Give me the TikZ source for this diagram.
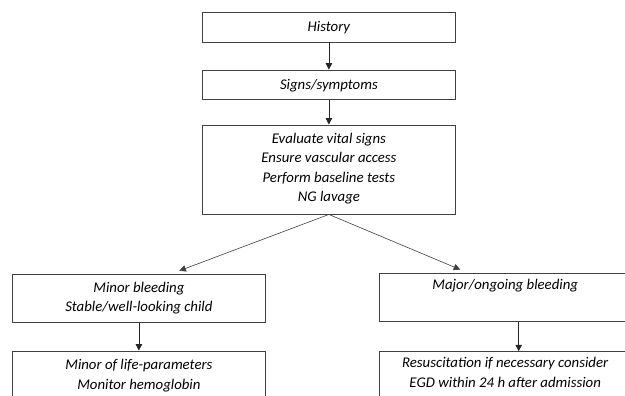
\documentclass[tikz,border=0pt]{standalone}
\usepackage{fontspec}
\setmainfont{Carlito}
\usetikzlibrary{arrows.meta,calc}
\begin{document}
\begin{tikzpicture}[x=1pt,y=-1pt,
  box/.style={draw=black!75,line width=0.9pt,minimum width=252.3pt,inner sep=0pt,align=center,
    font=\fontsize{14.8}{19.4}\selectfont\itshape,
    execute at begin node={\rule{0pt}{13pt}},
    execute at end node={\rule[-4pt]{0pt}{4pt}}},
  arr/.style={draw=black!85,line width=0.8pt,-{Triangle[length=6.5pt,width=6.5pt]}},
  darr/.style={draw=black!75,line width=0.6pt,-{Triangle[length=6.5pt,width=6.5pt]}}]
\useasboundingbox[fill=white] (0,0) rectangle (625,396);
\clip (0,0) rectangle (625,396);
\node[box,minimum height=29.7pt] (hist) at (328.9,27.2) {History};
\node[box,minimum height=29.3pt] (sign) at (328.9,84.7) {Signs/symptoms};
\node[box,minimum height=89pt] (eval) at (328.9,169.5) {Evaluate vital signs\\Ensure vascular access\\Perform baseline tests\\NG lavage};
\node[box,minimum height=48pt] (minor) at (138.9,298.7) {Minor bleeding\\Stable/well-looking child};
\node[box,minimum height=47.7pt] (major) at (505.2,297.2) {Major/ongoing bleeding\\\strut};
\node[box,minimum height=50.4pt] (life) at (138.9,376.2) {Minor of life-parameters\\Monitor hemoglobin};
\node[box,minimum height=45.6pt] (resus) at (505.2,374.5) {Resuscitation if necessary consider\\EGD within 24 h after admission};
\draw[arr] (hist.south) -- (sign.north);
\draw[arr] (sign.south) -- (eval.north);
\draw[darr] (eval.south) -- ($(minor.north)+(40.5,-3.5)$);
\draw[darr] (eval.south) -- ($(major.north)+(-45,-3.3)$);
\draw[arr] (minor.south) -- (life.north);
\draw[arr] ($(major.south)+(13.5,0)$) -- ($(resus.north)+(13.5,0)$);
\end{tikzpicture}
\end{document}
